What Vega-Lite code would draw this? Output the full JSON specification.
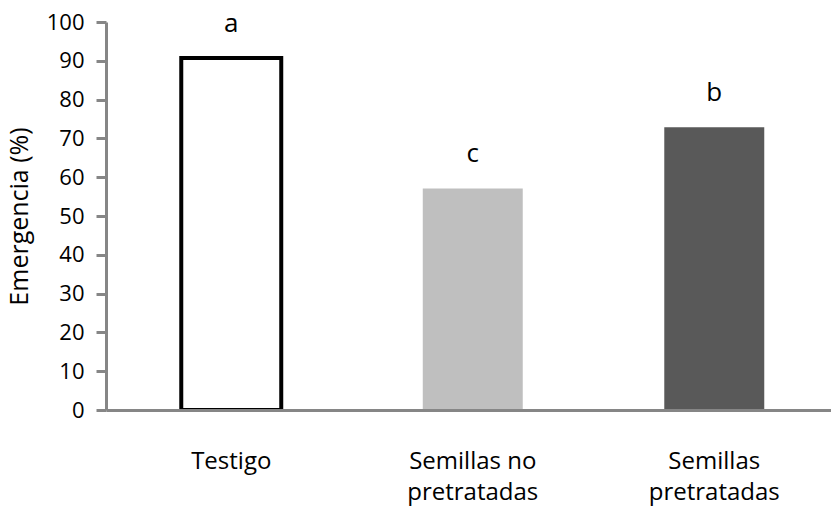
{
  "$schema": "https://vega.github.io/schema/vega-lite/v6.json",
  "width": 725,
  "height": 388,
  "autosize": "none",
  "padding": {"left": 106, "top": 22, "right": 0, "bottom": 102},
  "background": "white",
  "config": {
    "view": {"stroke": null},
    "font": "Open Sans"
  },
  "data": {
    "values": [
      {"cat": "Testigo", "val": 90.7, "letra": "a"},
      {"cat": "Semillas no\npretratadas", "val": 57.1, "letra": "c"},
      {"cat": "Semillas\npretratadas", "val": 72.9, "letra": "b"}
    ]
  },
  "encoding": {
    "x": {
      "field": "cat",
      "type": "nominal",
      "sort": null,
      "scale": {"paddingInner": 0.586, "paddingOuter": 0.294, "align": 0.53},
      "axis": {
        "title": null,
        "labelAngle": 0,
        "labelExpr": "split(datum.label, '\\n')",
        "labelFont": "Open Sans",
        "labelFontSize": 24,
        "labelColor": "black",
        "labelLineHeight": 31,
        "labelPadding": 39,
        "labelBaseline": "top",
        "ticks": false,
        "domainColor": "#868686",
        "domainWidth": 3,
        "zindex": 1
      }
    },
    "y": {
      "field": "val",
      "type": "quantitative",
      "scale": {"domain": [0, 100]},
      "axis": {
        "title": "Emergencia (%)",
        "titleFont": "Open Sans",
        "titleFontSize": 25,
        "titleFontWeight": "normal",
        "titleColor": "black",
        "titlePadding": 14,
        "values": [0, 10, 20, 30, 40, 50, 60, 70, 80, 90, 100],
        "grid": false,
        "labelFont": "Open Sans",
        "labelFontSize": 22,
        "labelColor": "black",
        "labelPadding": 12,
        "tickSize": 10,
        "tickWidth": 3,
        "tickColor": "#868686",
        "domainColor": "#868686",
        "domainWidth": 3
      }
    }
  },
  "layer": [
    {
      "mark": {"type": "bar", "strokeWidth": 4},
      "encoding": {
        "fill": {
          "field": "cat",
          "type": "nominal",
          "scale": {
            "domain": ["Testigo", "Semillas no\npretratadas", "Semillas\npretratadas"],
            "range": ["#ffffff", "#bfbfbf", "#595959"]
          },
          "legend": null
        },
        "stroke": {
          "condition": {"test": "datum.cat === 'Testigo'", "value": "black"},
          "value": null
        }
      }
    },
    {
      "mark": {"type": "text", "dy": -26, "baseline": "alphabetic", "fontSize": 26, "font": "Open Sans", "color": "black"},
      "encoding": {
        "text": {"field": "letra"}
      }
    }
  ]
}
